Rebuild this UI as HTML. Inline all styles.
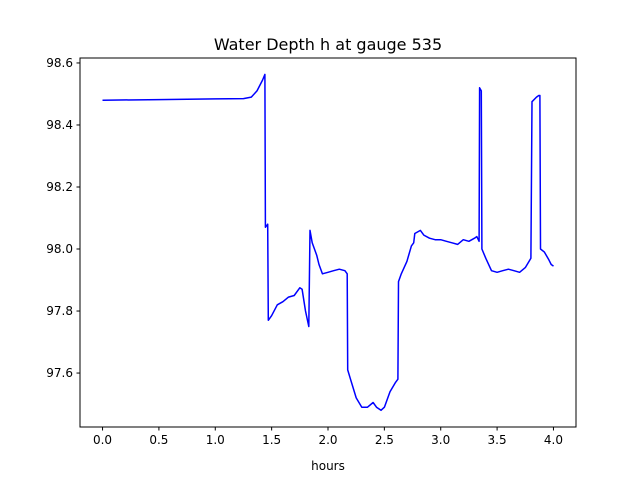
<!DOCTYPE html>
<html><head><meta charset="utf-8"><style>
body{margin:0;background:#fff;font-family:"Liberation Sans","DejaVu Sans",sans-serif;}
svg text{font-family:"DejaVu Sans","Liberation Sans",sans-serif;}
</style></head><body>
<svg id="chart" width="640" height="480" viewBox="0 0 640 480">
<rect width="640" height="480" fill="#fff"/>
<text x="328" y="50" font-size="16" text-anchor="middle">Water Depth h at gauge 535</text>
<g id="plot"></g>
<rect x="80" y="58" width="496" height="369" fill="none" stroke="#000" stroke-width="1"/>
<text x="328" y="470" font-size="12" text-anchor="middle">hours</text>
</svg>
<script>
const xTicks=[0,0.5,1.0,1.5,2.0,2.5,3.0,3.5,4.0];
const xTickLabels=["0.0","0.5","1.0","1.5","2.0","2.5","3.0","3.5","4.0"];
const yTicks=[97.6,97.8,98.0,98.2,98.4,98.6];
const yTickLabels=["97.6","97.8","98.0","98.2","98.4","98.6"];
const hours=[0,0.5,1.0,1.25,1.32,1.37,1.42,1.44,1.445,1.465,1.47,1.5,1.55,1.6,1.65,1.7,1.75,1.77,1.8,1.83,1.84,1.86,1.9,1.92,1.95,2.0,2.05,2.1,2.15,2.17,2.175,2.2,2.25,2.3,2.35,2.4,2.43,2.47,2.5,2.55,2.6,2.62,2.625,2.65,2.7,2.74,2.76,2.77,2.82,2.85,2.9,2.95,3.0,3.05,3.1,3.15,3.2,3.25,3.3,3.32,3.34,3.345,3.36,3.365,3.4,3.45,3.5,3.55,3.6,3.65,3.7,3.75,3.8,3.81,3.85,3.87,3.88,3.885,3.92,3.96,3.98,4.0];
const depth=[98.48,98.482,98.484,98.485,98.49,98.51,98.545,98.563,98.07,98.08,97.77,97.785,97.82,97.83,97.845,97.85,97.875,97.87,97.8,97.75,98.06,98.02,97.98,97.95,97.92,97.925,97.93,97.935,97.93,97.92,97.61,97.58,97.52,97.49,97.49,97.505,97.49,97.48,97.49,97.54,97.57,97.58,97.895,97.92,97.96,98.01,98.02,98.05,98.06,98.045,98.035,98.03,98.03,98.025,98.02,98.015,98.03,98.025,98.035,98.04,98.025,98.52,98.51,98.0,97.97,97.93,97.925,97.93,97.935,97.93,97.925,97.94,97.97,98.475,98.49,98.495,98.495,98.0,97.99,97.965,97.95,97.945];
const L=80,R=576,T=58,B=427,x0=-0.2,x1=4.2,y0=97.426,y1=98.616;
const sx=v=>L+(v-x0)/(x1-x0)*(R-L);
const sy=v=>B-(v-y0)/(y1-y0)*(B-T);
const NS="http://www.w3.org/2000/svg";
const g=document.getElementById('plot');
function mk(t,a){const e=document.createElementNS(NS,t);for(const k in a)e.setAttribute(k,a[k]);g.appendChild(e);return e;}
xTicks.forEach((v,i)=>{
 const l=mk('line',{x1:sx(v),x2:sx(v),y1:B,y2:B+3.5,stroke:'#000'});
 
 
 const t=mk('text',{x:sx(v),y:B+17,'font-size':12,'text-anchor':'middle'});t.textContent=xTickLabels[i];
 
 
});
yTicks.forEach((v,i)=>{
 const l=mk('line',{x1:L-3.5,x2:L,y1:sy(v),y2:sy(v),stroke:'#000'});
 
 
 const t=mk('text',{x:L-7,y:sy(v)+4,'font-size':12,'text-anchor':'end'});t.textContent=yTickLabels[i];
 
 
});
const p=mk('polyline',{points:hours.map((h,i)=>sx(h).toFixed(1)+','+sy(depth[i]).toFixed(1)).join(' '),fill:'none',stroke:'#0000ff','stroke-width':1.5,'stroke-linejoin':'round'});


</script>
</body></html>
